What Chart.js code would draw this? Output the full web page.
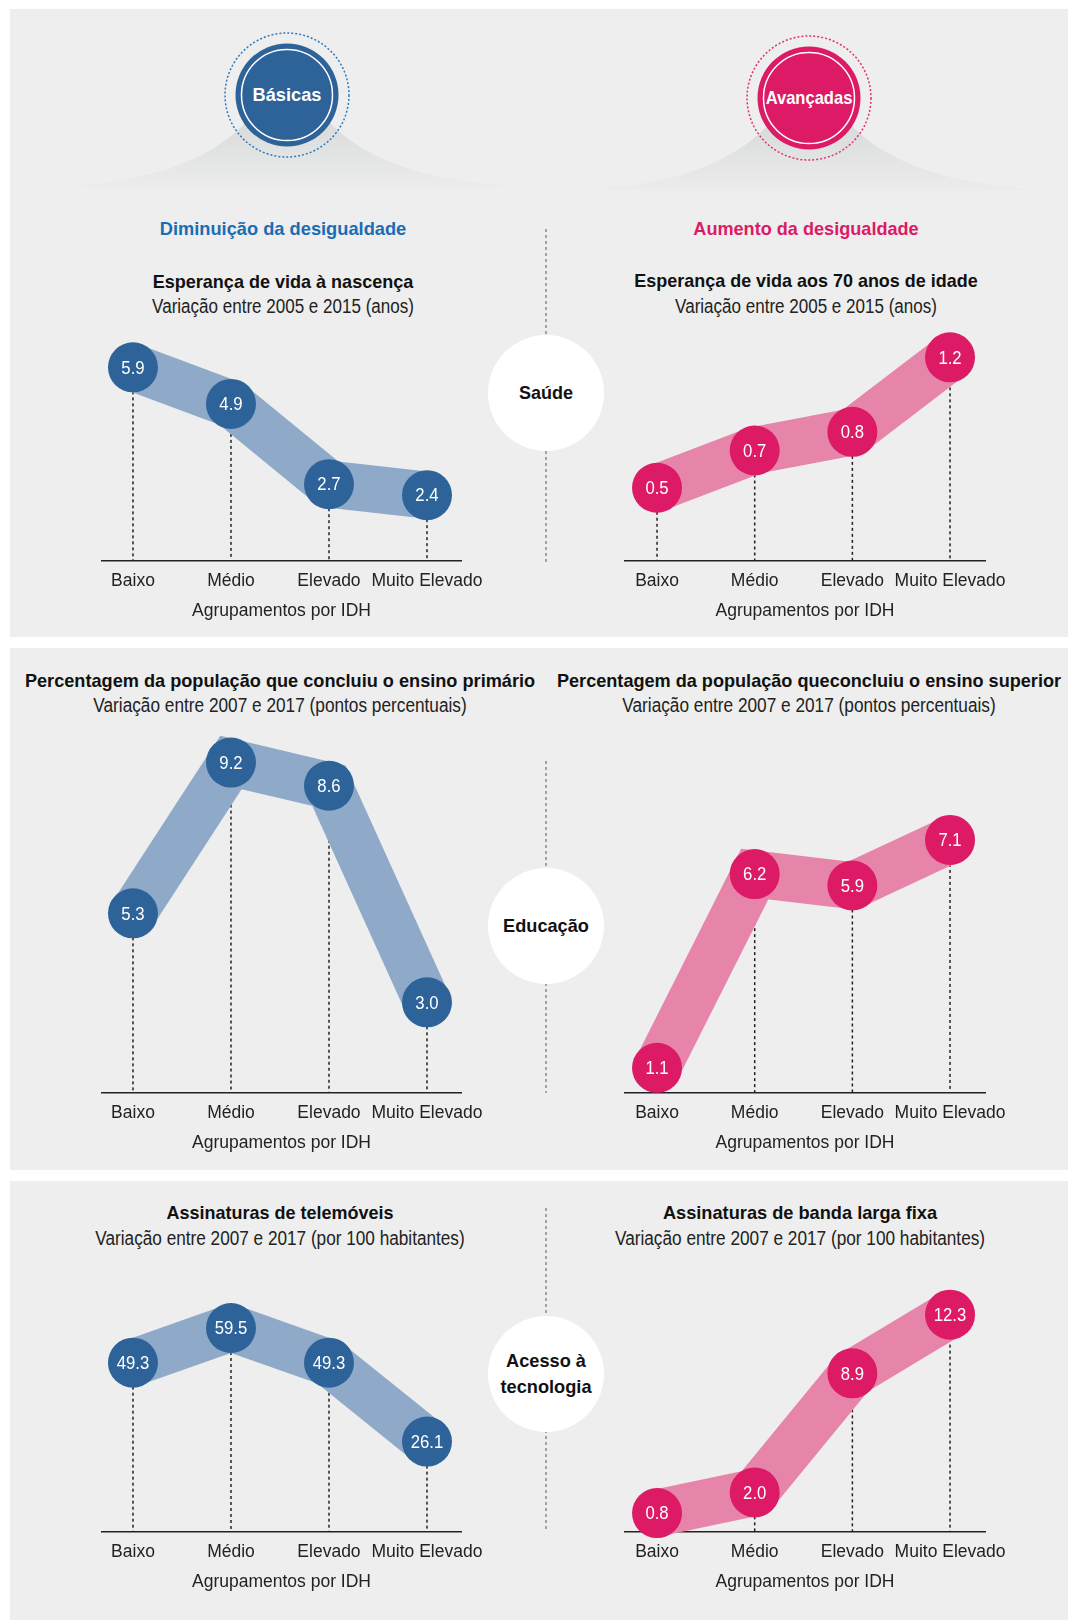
<!DOCTYPE html>
<html lang="pt">
<head>
<meta charset="utf-8">
<title>Capacidades básicas e avançadas</title>
<script src="https://cdn.jsdelivr.net/npm/chart.js@4.4.1/dist/chart.umd.min.js"></script>
<style>
  body { margin: 0; background: #fff; }
  #page { position: relative; width: 1068px; height: 1620px; overflow: hidden;
          font-family: 'Liberation Sans', Arial, sans-serif; }
  .panel { position: absolute; left: 10px; width: 1058px; background: #edeeed; }
  .txt { position: absolute; transform: translate(-50%, -50%); white-space: nowrap; line-height: 1.3; text-align: center; }
  .tit { font-weight: bold; font-size: 19px; color: #111; }
  .sub { font-size: 19.5px; color: #222; }
  .cab { font-weight: bold; font-size: 19px; }
  canvas { position: absolute; }
  svg { position: absolute; left: 0; top: 0; }
</style>
</head>
<body>
<div id="page">
  <div class="panel" style="top:9px;height:628px"></div>
  <div class="panel" style="top:648px;height:522px"></div>
  <div class="panel" style="top:1181px;height:439px"></div>

  <svg width="1068" height="1620">
    <defs>
      <linearGradient id="sombra" x1="0" y1="0" x2="0" y2="1">
        <stop offset="0" stop-color="#d8d9da"/>
        <stop offset="1" stop-color="#ebeceb"/>
      </linearGradient>
    </defs>
    <path d="M45 187 C150 185 212 160 250 118 L325 118 C363 160 430 185 540 187 Z" fill="url(#sombra)"/>
    <path d="M567 190 C672 188 734 163 772 121 L847 121 C885 163 952 188 1062 190 Z" fill="url(#sombra)"/>
    <circle cx="287" cy="95" r="62" fill="none" stroke="#2a7cc0" stroke-width="1.5" stroke-dasharray="2 2"/>
    <circle cx="287" cy="95" r="51.5" fill="#2e6399"/>
    <circle cx="287" cy="95" r="45.5" fill="none" stroke="#fff" stroke-width="1.5"/>
    <circle cx="809" cy="98" r="62" fill="none" stroke="#e0306f" stroke-width="1.5" stroke-dasharray="2 2"/>
    <circle cx="809" cy="98" r="51.5" fill="#dc1a66"/>
    <circle cx="809" cy="98" r="45.5" fill="none" stroke="#fff" stroke-width="1.5"/>
    <g stroke="#8a8a8a" stroke-width="1.5" stroke-dasharray="3 3">
      <line x1="546" y1="229" x2="546" y2="563"/>
      <line x1="546" y1="761" x2="546" y2="1093"/>
      <line x1="546" y1="1208" x2="546" y2="1532"/>
    </g>
    <g fill="#fff">
      <circle cx="546" cy="393" r="58"/>
      <circle cx="546" cy="926" r="58"/>
      <circle cx="546" cy="1374" r="58"/>
    </g>
  </svg>

  <div class="txt cab" data-w="69" style="left:287px;top:95px;color:#fff">Básicas</div>
  <div class="txt cab" data-w="87" style="left:809px;top:98px;color:#fff">Avançadas</div>
  <div class="txt cab" data-w="247" style="left:283px;top:229px;color:#1a6db5">Diminuição da desigualdade</div>
  <div class="txt cab" data-w="225" style="left:806px;top:229px;color:#dc1a66">Aumento da desigualdade</div>

  <div class="txt cab" data-w="54" style="left:546px;top:393px;color:#111">Saúde</div>
  <div class="txt cab" data-w="86" style="left:546px;top:926px;color:#111">Educação</div>
  <div class="txt cab" data-w="91" style="left:546px;top:1374px;color:#111;line-height:26px">Acesso à<br>tecnologia</div>

  <div class="txt tit" data-w="261" style="left:283px;top:282px">Esperança de vida à nascença</div>
  <div class="txt sub" data-w="262" style="left:283px;top:307px">Variação entre 2005 e 2015 (anos)</div>
  <div class="txt tit" data-w="343" style="left:806px;top:281px">Esperança de vida aos 70 anos de idade</div>
  <div class="txt sub" data-w="262" style="left:806px;top:307px">Variação entre 2005 e 2015 (anos)</div>

  <div class="txt tit" data-w="510" style="left:280px;top:681px">Percentagem da população que concluiu o ensino primário</div>
  <div class="txt sub" data-w="373" style="left:280px;top:706px">Variação entre 2007 e 2017 (pontos percentuais)</div>
  <div class="txt tit" data-w="504" style="left:809px;top:681px">Percentagem da população queconcluiu o ensino superior</div>
  <div class="txt sub" data-w="373" style="left:809px;top:706px">Variação entre 2007 e 2017 (pontos percentuais)</div>

  <div class="txt tit" data-w="227" style="left:280px;top:1213px">Assinaturas de telemóveis</div>
  <div class="txt sub" data-w="369" style="left:280px;top:1239px">Variação entre 2007 e 2017 (por 100 habitantes)</div>
  <div class="txt tit" data-w="274" style="left:800px;top:1213px">Assinaturas de banda larga fixa</div>
  <div class="txt sub" data-w="370" style="left:800px;top:1239px">Variação entre 2007 e 2017 (por 100 habitantes)</div>
</div>

<script>
'use strict';
var FONT = "'Liberation Sans', Arial, sans-serif";

// categories (x axis) and values of the six small charts
var categorias = ['Baixo', 'Médio', 'Elevado', 'Muito Elevado'];
var tituloEixo = 'Agrupamentos por IDH';
var vidaNascenca = [5.9, 4.9, 2.7, 2.4];
var vida70 = [0.5, 0.7, 0.8, 1.2];
var ensinoPrimario = [5.3, 9.2, 8.6, 3.0];
var ensinoSuperior = [1.1, 6.2, 5.9, 7.1];
var telemoveis = [49.3, 59.5, 49.3, 26.1];
var bandaLarga = [0.8, 2.0, 8.9, 12.3];

var AZUL = { ponto: '#2e6399', faixa: '#8eaac8' };
var ROSA = { ponto: '#dc1a66', faixa: '#e685a9' };

// column geometry (left / right half of the page)
var ESQ = { x: 60, w: 460, padL: 42, padR: 59, xmin: -0.316, xmax: 3.347 };
var DIR = { x: 585, w: 460, padL: 40, padR: 60, xmin: -0.328, xmax: 3.358 };
var PAD_TOP = 40;
var TICK_PAD = 10;
var TICK_SIZE = 17.5;
var EIXO_H = TICK_SIZE * 1.2 + TICK_PAD * 2 + TICK_SIZE; // labels + padding + title

// squeeze html text to the condensed width of the original
document.querySelectorAll('.txt[data-w]').forEach(function (el) {
  var k = Number(el.dataset.w) / el.offsetWidth;
  el.style.transform = 'translate(-50%, -50%) scaleX(' + k.toFixed(3) + ')';
});

// dotted drop lines from each point to the axis
var guias = {
  id: 'guias',
  beforeDatasetsDraw: function (chart) {
    var ctx = chart.ctx;
    var base = chart.chartArea.bottom;
    ctx.save();
    ctx.setLineDash([3, 3]);
    ctx.lineWidth = 1.5;
    ctx.strokeStyle = '#222';
    chart.getDatasetMeta(0).data.forEach(function (p) {
      ctx.beginPath();
      ctx.moveTo(p.x, p.y);
      ctx.lineTo(p.x, base);
      ctx.stroke();
    });
    ctx.restore();
  }
};

// value written inside each dot (condensed look)
var rotulos = {
  id: 'rotulos',
  afterDatasetsDraw: function (chart) {
    var ctx = chart.ctx;
    var vals = chart.data.datasets[0].data;
    chart.getDatasetMeta(0).data.forEach(function (p, i) {
      ctx.save();
      ctx.translate(p.x, p.y + 1);
      ctx.scale(0.88, 1);
      ctx.fillStyle = '#fff';
      ctx.font = '19px ' + FONT;
      ctx.textAlign = 'center';
      ctx.textBaseline = 'middle';
      ctx.fillText(vals[i].y.toFixed(1), 0, 0);
      ctx.restore();
    });
  }
};

function desenha(valores, cor, col, topo, base, yMin, yMax) {
  var cv = document.createElement('canvas');
  var h = Math.ceil(PAD_TOP + (base - topo) + EIXO_H + 10);
  cv.width = col.w;
  cv.height = h;
  cv.style.left = col.x + 'px';
  cv.style.top = (topo - PAD_TOP) + 'px';
  document.getElementById('page').appendChild(cv);

  new Chart(cv.getContext('2d'), {
    type: 'line',
    data: {
      datasets: [{
        data: valores.map(function (v, i) { return { x: i, y: v }; }),
        borderColor: cor.faixa,
        borderWidth: 47,
        pointRadius: 25,
        pointHoverRadius: 25,
        pointBorderWidth: 0,
        pointBackgroundColor: cor.ponto,
        tension: 0,
        clip: false
      }]
    },
    options: {
      responsive: false,
      animation: false,
      devicePixelRatio: 1,
      layout: {
        padding: { left: col.padL, right: col.padR, top: PAD_TOP, bottom: h - PAD_TOP - (base - topo) - EIXO_H }
      },
      plugins: { legend: { display: false }, tooltip: { enabled: false } },
      scales: {
        x: {
          type: 'linear',
          min: col.xmin,
          max: col.xmax,
          afterBuildTicks: function (s) {
            s.ticks = categorias.map(function (c, i) { return { value: i }; });
          },
          grid: { display: false, drawTicks: false },
          border: { display: true, color: '#222', width: 1.5 },
          ticks: {
            padding: TICK_PAD,
            maxRotation: 0,
            autoSkip: false,
            color: '#222',
            font: { family: FONT, size: TICK_SIZE, lineHeight: 1.2 },
            callback: function (v) { return categorias[v]; }
          },
          title: {
            display: true,
            text: tituloEixo,
            color: '#222',
            padding: 0,
            font: { family: FONT, size: TICK_SIZE, lineHeight: 1 }
          }
        },
        y: { display: false, min: yMin, max: yMax }
      }
    },
    plugins: [guias, rotulos]
  });
}

desenha(vidaNascenca, AZUL, ESQ, 321, 561, 0.597, 7.17);
desenha(vida70, ROSA, DIR, 321, 561, 0.107, 1.395);
desenha(ensinoPrimario, AZUL, ESQ, 720, 1093, 0.655, 10.30);
desenha(ensinoSuperior, ROSA, DIR, 720, 1093, 0.438, 10.257);
desenha(telemoveis, AZUL, ESQ, 1262, 1532, -0.47, 78.9);
desenha(bandaLarga, ROSA, DIR, 1262, 1532, -0.295, 15.35);
</script>
</body>
</html>
